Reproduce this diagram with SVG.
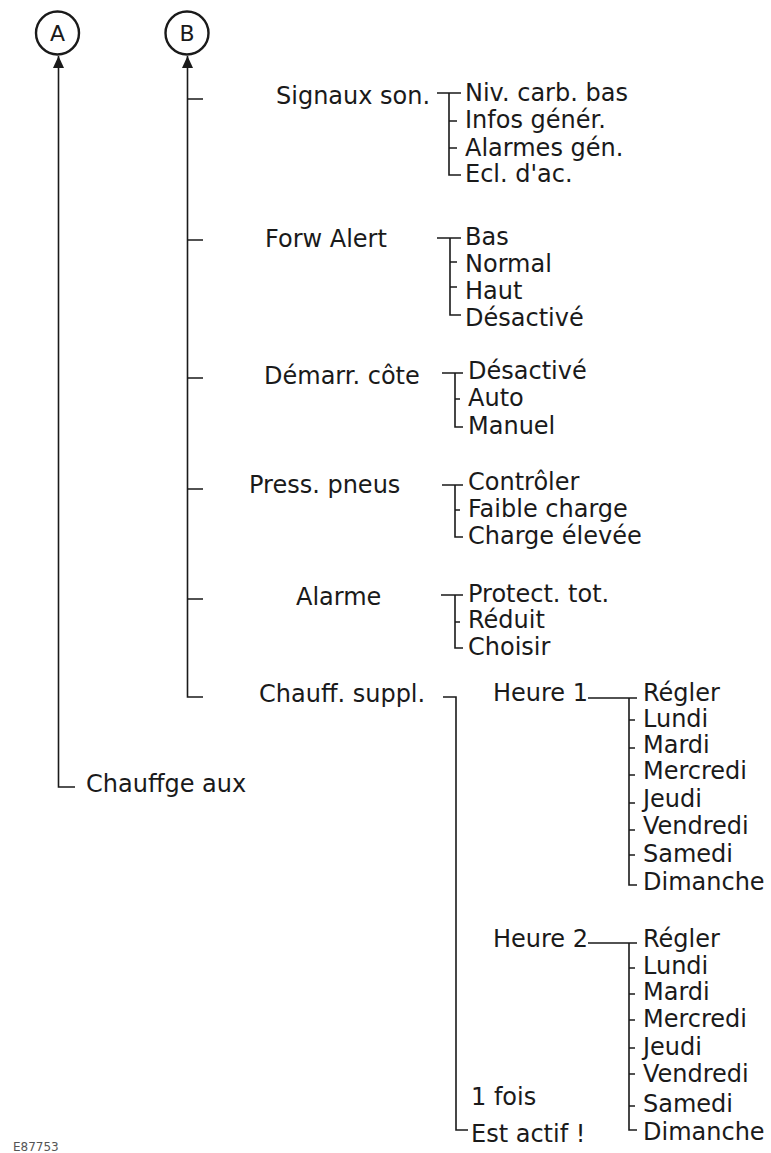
<svg xmlns="http://www.w3.org/2000/svg" width="771" height="1153" viewBox="0 0 771 1153">
<style>
text{font-family:"DejaVu Sans","Liberation Sans",sans-serif;font-size:24px;fill:#1a1a1a}
.c{fill:none;stroke:#1a1a1a;stroke-width:1.6}
.circ{fill:#fff;stroke:#1a1a1a;stroke-width:2.4}
.lt{font-size:22px;text-anchor:middle}
.ref{font-size:12px;fill:#555}
</style>
<defs>
<marker id="arr" markerUnits="userSpaceOnUse" viewBox="0 0 12 11" refX="12" refY="5.5" markerWidth="12" markerHeight="11" orient="auto">
<path d="M0 0 L12 5.5 L0 11 z" fill="#1a1a1a"/>
</marker>
</defs>
<g id="connectors" class="c">
<path d="M75 787 H58.5 V56" marker-end="url(#arr)"/>
<path d="M203 697 H187.5 V56" marker-end="url(#arr)"/>
<path d="M187.5 99 H203 M187.5 240 H203 M187.5 378 H203 M187.5 489 H203 M187.5 599 H203"/>
<path d="M437 93 H461 M449 93 V175 H461 M449 121 H457 M449 148 H457"/>
<path d="M437 238 H461 M450 238 V315 H461 M450 262 H457 M450 287 H457"/>
<path d="M442 373 H463 M455 373 V427 H463 M455 399 H460"/>
<path d="M442 485 H463 M455 485 V537 H463 M455 510 H460"/>
<path d="M441 595 H463 M455 595 V648 H463 M455 622 H460"/>
<path d="M443 697 H456 V1130 H468"/>
<path d="M588 698 H637 M629 698 V885 H637 M629 720 H635 M629 748 H635 M629 775 H635 M629 803 H635 M629 830 H635 M629 855 H635"/>
<path d="M588 943 H637 M629 943 V1130 H637 M629 968 H635 M629 994 H635 M629 1020 H635 M629 1048 H635 M629 1074 H635 M629 1106 H635"/>
</g>
<g id="nodeA"><circle class="circ" cx="57.5" cy="33" r="21.5"/><text class="lt" x="57.5" y="41">A</text></g>
<g id="nodeB"><circle class="circ" cx="187" cy="33" r="21.5"/><text class="lt" x="187" y="41">B</text></g>
<g id="chauffge"><text x="86" y="792">Chauffge aux</text></g>
<g id="signaux"><text x="276" y="104">Signaux son.</text></g>
<g id="signaux-items">
<text x="465" y="101">Niv. carb. bas</text>
<text x="465" y="128">Infos génér.</text>
<text x="465" y="156">Alarmes gén.</text>
<text x="465" y="182">Ecl. d'ac.</text>
</g>
<g id="forw"><text x="265" y="247">Forw Alert</text></g>
<g id="forw-items">
<text x="465" y="245">Bas</text>
<text x="465" y="272">Normal</text>
<text x="465" y="299">Haut</text>
<text x="465" y="326">Désactivé</text>
</g>
<g id="demarr"><text x="264" y="384">Démarr. côte</text></g>
<g id="demarr-items">
<text x="468" y="379">Désactivé</text>
<text x="468" y="406">Auto</text>
<text x="468" y="434">Manuel</text>
</g>
<g id="press"><text x="249" y="493">Press. pneus</text></g>
<g id="press-items">
<text x="468" y="490">Contrôler</text>
<text x="468" y="517">Faible charge</text>
<text x="468" y="544">Charge élevée</text>
</g>
<g id="alarme"><text x="296" y="605">Alarme</text></g>
<g id="alarme-items">
<text x="468" y="602">Protect. tot.</text>
<text x="468" y="628">Réduit</text>
<text x="468" y="655">Choisir</text>
</g>
<g id="chauff"><text x="259" y="702">Chauff. suppl.</text></g>
<g id="heure1"><text x="493" y="701">Heure 1</text></g>
<g id="heure1-items">
<text x="643" y="701">Régler</text>
<text x="643" y="727">Lundi</text>
<text x="643" y="753">Mardi</text>
<text x="643" y="779">Mercredi</text>
<text x="643" y="807">Jeudi</text>
<text x="643" y="834">Vendredi</text>
<text x="643" y="862">Samedi</text>
<text x="643" y="890">Dimanche</text>
</g>
<g id="heure2"><text x="493" y="947">Heure 2</text></g>
<g id="heure2-items">
<text x="643" y="947">Régler</text>
<text x="643" y="974">Lundi</text>
<text x="643" y="1000">Mardi</text>
<text x="643" y="1027">Mercredi</text>
<text x="643" y="1055">Jeudi</text>
<text x="643" y="1082">Vendredi</text>
<text x="643" y="1112">Samedi</text>
<text x="643" y="1140">Dimanche</text>
</g>
<g id="fois"><text x="471" y="1105">1 fois</text></g>
<g id="actif"><text x="471" y="1142">Est actif !</text></g>
<text class="ref" x="13" y="1151">E87753</text>
</svg>
